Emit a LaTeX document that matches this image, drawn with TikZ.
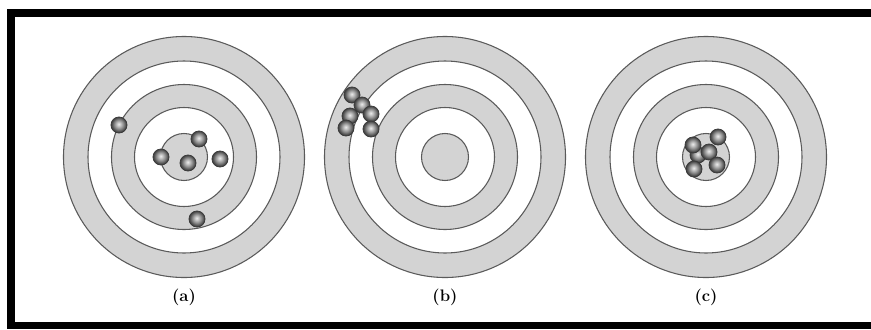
\documentclass[tikz,border=0pt]{standalone}
\usepackage{tikz}
\definecolor{ink}{HTML}{000000}
\definecolor{ringfill}{HTML}{D3D3D3}
\definecolor{ringline}{HTML}{5A5A5A}
\definecolor{pelletedge}{HTML}{3A3A3A}
\newcommand{\captionfont}{\fontsize{12.5}{14}\selectfont}
\pgfdeclareradialshading{pelletshade}{\pgfpoint{-1bp}{3bp}}{%
  color(0bp)=(white!92!black); color(5bp)=(white!80!black);
  color(14bp)=(black!45); color(22bp)=(black!70); color(25bp)=(black!75);
  color(50bp)=(black!75)}
\newcommand{\target}[2]{%
  \foreach \rad/\col in {120.5/ringfill,96/white,72.5/ringfill,49.5/white,23.5/ringfill} {%
    \draw[fill=\col, draw=ringline, line width=0.8pt] (#1,157) circle (\rad);
  }
  \node[anchor=center, text=ink, font=\bfseries\captionfont] at (#1,297) {(#2)};
}
\newcommand{\pellet}[2]{%
  \draw[shading=pelletshade, draw=pelletedge, line width=0.6pt] (#1,#2) circle (8);
}

\begin{document}
\begin{tikzpicture}[x=0.75pt,y=-0.75pt]
  \useasboundingbox (0,0) rectangle (871,329);
  \fill[white] (0,0) rectangle (871,329);

  % Frame, open on the right.
  \fill[ink] (7,9) rectangle (871,17);
  \fill[ink] (7,9) rectangle (15,329);
  \fill[ink] (7,322) rectangle (871,329);

  % (a) scattered around the centre.
  \target{184}{a}
  \foreach \px/\py in {119/125,199/139,161/157,188/163,220/159,197/219} {
    \pellet{\px}{\py}
  }

  % (b) tight group, off target.
  \target{445}{b}
  \foreach \px/\py in {352/95,362/105,350/116,371/114,346/128,371/129} {
    \pellet{\px}{\py}
  }

  % (c) tight group on the bull's eye.
  \target{706}{c}
  \foreach \px/\py in {698/155,693/145,718/137,709/152,694/169,717/165} {
    \pellet{\px}{\py}
  }
\end{tikzpicture}
\end{document}
